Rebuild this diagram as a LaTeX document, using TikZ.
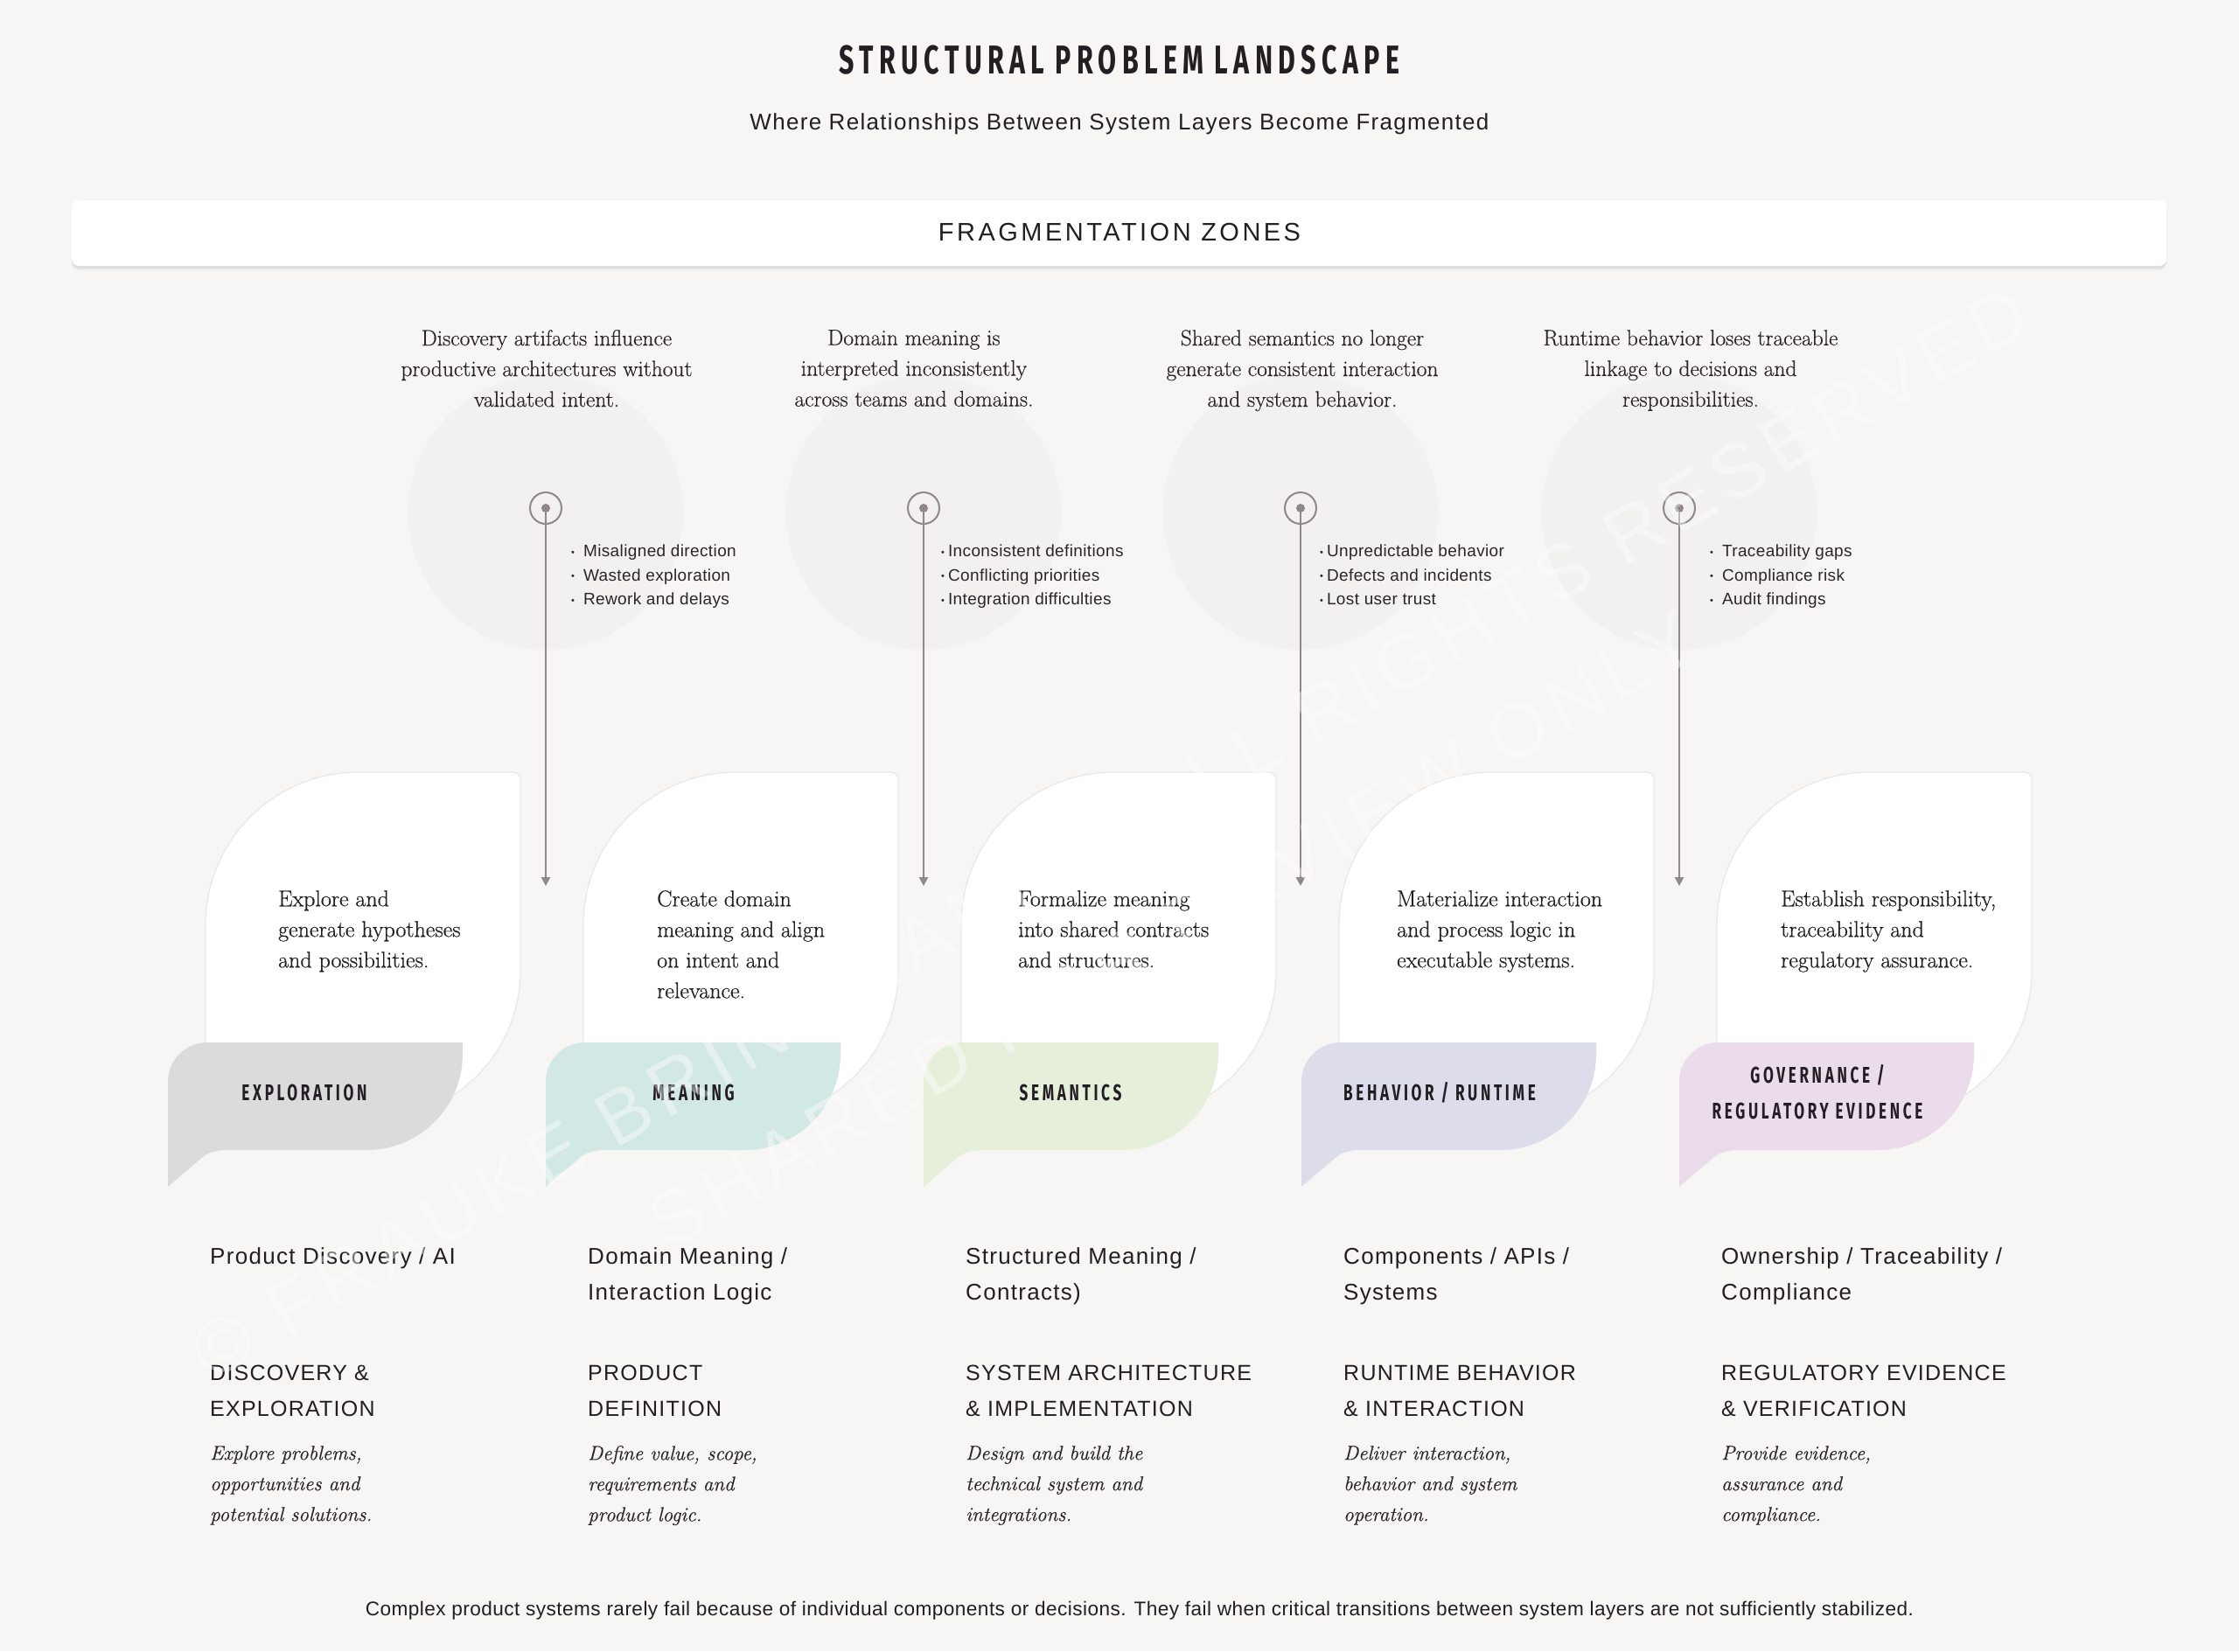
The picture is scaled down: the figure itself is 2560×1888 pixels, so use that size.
\documentclass[tikz,border=0pt]{standalone}
\usepackage{fontspec}
\setmainfont{Latin Modern Roman}[FakeBold=0.5]
\newfontfamily\condf{Fira Sans}[FakeStretch=0.66,LetterSpace=14]
\newfontfamily\sansf{Liberation Sans}[LetterSpace=5]
\newfontfamily\sanst{Liberation Sans}[LetterSpace=2]
\newfontfamily\sanswide{Liberation Sans}[LetterSpace=12]
\newfontfamily\wmf{Liberation Sans}[LetterSpace=10]
\usetikzlibrary{arrows.meta}
\definecolor{bgc}{HTML}{F7F6F4}
\definecolor{halo}{HTML}{F3F0F0}
\definecolor{ink}{HTML}{221E24}
\definecolor{soft}{HTML}{2A2529}
\definecolor{stemc}{HTML}{8F8789}
\definecolor{cExp}{HTML}{DCDBDB}
\definecolor{cMea}{HTML}{D2E8E5}
\definecolor{cSem}{HTML}{E5EFDA}
\definecolor{cBeh}{HTML}{DCDCEA}
\definecolor{cGov}{HTML}{EADCEA}
\newcommand\bul{{\fontsize{11}{11}\selectfont\raisebox{1.5pt}{•}}}
\tikzset{
  cardshape/.style={fill=white,draw=black!9,line width=1.2pt},
  cardtext/.style={inner sep=0pt,align=left,text=ink,font=\fontsize{26}{35}\selectfont},
  labeltext/.style={inner sep=0pt,align=center,text=ink,font=\condf\bfseries\fontsize{26}{41}\selectfont},
  zonetext/.style={inner sep=0pt,align=center,text=soft,font=\fontsize{25.5}{35}\selectfont},
  bullettext/.style={inner sep=0pt,align=left,text=soft,font=\sanst\fontsize{19}{27.5}\selectfont},
  toptext/.style={inner sep=0pt,align=left,text=ink,font=\sansf\fontsize{26}{41}\selectfont},
  headtext/.style={inner sep=0pt,align=left,text=ink,font=\sansf\fontsize{25}{41}\selectfont},
  desctext/.style={inner sep=0pt,align=left,text=soft,font=\itshape\fontsize{23}{35}\selectfont},
  marker/.style={circle,draw=stemc,line width=2pt,minimum size=36pt,inner sep=0pt},
  stem/.style={draw=stemc,line width=2.5pt,-{Triangle[length=10pt,width=10pt]}},
  wmark/.style={text=white,opacity=0.4,font=\wmf\fontsize{88}{96}\selectfont,rotate=30}
}
\newcommand\phasecard[7]{%
  \begin{scope}[shift={(#2,883)}]
    \path[cardshape] (0,397) -- (0,175) .. controls (0,78) and (78,0) .. (175,0) -- (352,0) .. controls (356.4,0) and (360,3.6) .. (360,8) -- (360,227) .. controls (360,321) and (284,397) .. (190,397) -- cycle;
    \node[cardtext,anchor=north west] (card#1) at (#6,135) {#5};
    \path[fill=#3] (-43,474) -- (-43,354) .. controls (-43,329) and (-23,309) .. (2,309) -- (294,309) -- (294,322) .. controls (294,383) and (245,432) .. (184,432) -- (25,432) .. controls (10,432) and (0,436) .. (-8,444) -- cycle;
    \node[labeltext] (lab#1) at (#7,366) {#4};
  \end{scope}}
\newcommand\zonestem[2]{%
  \fill[halo] (#2,586) circle[radius=157pt];
  \node[marker] (mk#1) at (#2,581) {};
  \fill[stemc] (#2,581) circle[radius=5pt];
  \coordinate (end#1) at (#2,1013);
  \draw[stem] (mk#1.center) -- (end#1);
}
\begin{document}
\begin{tikzpicture}[x=1pt,y=-1pt]
\useasboundingbox (0,0) rectangle (2560,1888);
\fill[bgc] (0,0) rectangle (2560,1888);

% title
\node[text=ink,font=\condf\bfseries\fontsize{46}{50}\selectfont] (title) at (1280,69) {STRUCTURAL\hspace{12pt}PROBLEM\hspace{12pt}LANDSCAPE};
\node[text=ink,font=\sansf\fontsize{26}{30}\selectfont] (subtitle) at (1280,142) {Where Relationships Between System Layers Become Fragmented};

% fragmentation bar
\fill[black!7,rounded corners=8pt] (82,233) rectangle (2477,309);
\fill[black!13,rounded corners=8pt] (82,231) rectangle (2477,307);
\fill[white,rounded corners=8pt] (82,229) rectangle (2477,304);
\node[text=ink,font=\sanswide\fontsize{29}{32}\selectfont] (fz) at (1280,266) {FRAGMENTATION ZONES};

% zones
\zonestem{1}{624}
\zonestem{2}{1056}
\zonestem{3}{1487}
\zonestem{4}{1920}

\node[zonetext,anchor=north] (z1) at (625,377) {Discovery artifacts influence\\productive architectures without\\validated intent.};
\node[zonetext,anchor=north] (z2) at (1045,377) {Domain meaning is\\interpreted inconsistently\\across teams and domains.};
\node[zonetext,anchor=north] (z3) at (1489,377) {Shared semantics no longer\\generate consistent interaction\\and system behavior.};
\node[zonetext,anchor=north] (z4) at (1933,377) {Runtime behavior loses traceable\\linkage to decisions and\\responsibilities.};

\node[bullettext,anchor=north west] (b1) at (653,623) {\bul\hspace{10pt}Misaligned direction\\\bul\hspace{10pt}Wasted exploration\\\bul\hspace{10pt}Rework and delays};
\node[bullettext,anchor=north west] (b2) at (1076,623) {\bul\hspace{4pt}Inconsistent definitions\\\bul\hspace{4pt}Conflicting priorities\\\bul\hspace{4pt}Integration difficulties};
\node[bullettext,anchor=north west] (b3) at (1509,623) {\bul\hspace{4pt}Unpredictable behavior\\\bul\hspace{4pt}Defects and incidents\\\bul\hspace{4pt}Lost user trust};
\node[bullettext,anchor=north west] (b4) at (1955,623) {\bul\hspace{10pt}Traceability gaps\\\bul\hspace{10pt}Compliance risk\\\bul\hspace{10pt}Audit findings};

% cards
\phasecard{1}{235}{cExp}{EXPLORATION}{Explore and\\generate hypotheses\\and possibilities.}{83}{113}
\phasecard{2}{667}{cMea}{MEANING}{Create domain\\meaning and align\\on intent and\\relevance.}{84}{126}
\phasecard{3}{1099}{cSem}{SEMANTICS}{Formalize meaning\\into shared contracts\\and structures.}{65}{125}
\phasecard{4}{1531}{cBeh}{BEHAVIOR / RUNTIME}{Materialize interaction\\and process logic in\\executable systems.}{66}{115}
\phasecard{5}{1963}{cGov}{GOVERNANCE /\\REGULATORY EVIDENCE}{Establish responsibility,\\traceability and\\regulatory assurance.}{73}{115}

% bottom columns
\node[toptext,anchor=north west] (t1) at (240,1426) {Product Discovery / AI};
\node[toptext,anchor=north west] (t2) at (672,1426) {Domain Meaning /\\Interaction Logic};
\node[toptext,anchor=north west] (t3) at (1104,1426) {Structured Meaning /\\Contracts)};
\node[toptext,anchor=north west] (t4) at (1536,1426) {Components / APIs /\\Systems};
\node[toptext,anchor=north west] (t5) at (1968,1426) {Ownership / Traceability /\\Compliance};

\node[headtext,anchor=north west] (h1) at (240,1561) {DISCOVERY \&\\EXPLORATION};
\node[headtext,anchor=north west] (h2) at (672,1561) {PRODUCT\\DEFINITION};
\node[headtext,anchor=north west] (h3) at (1104,1561) {SYSTEM ARCHITECTURE\\\& IMPLEMENTATION};
\node[headtext,anchor=north west] (h4) at (1536,1561) {RUNTIME BEHAVIOR\\\& INTERACTION};
\node[headtext,anchor=north west] (h5) at (1968,1561) {REGULATORY EVIDENCE\\\& VERIFICATION};

\node[desctext,anchor=north west] (d1) at (240,1653) {Explore problems,\\opportunities and\\potential solutions.};
\node[desctext,anchor=north west] (d2) at (672,1653) {Define value, scope,\\requirements and\\product logic.};
\node[desctext,anchor=north west] (d3) at (1104,1653) {Design and build the\\technical system and\\integrations.};
\node[desctext,anchor=north west] (d4) at (1536,1653) {Deliver interaction,\\behavior and system\\operation.};
\node[desctext,anchor=north west] (d5) at (1968,1653) {Provide evidence,\\assurance and\\compliance.};

% footer
\node[text=ink,font=\sanst\fontsize{22.6}{26}\selectfont] (footer) at (1303,1842) {Complex product systems rarely fail because of individual components or decisions. They fail when critical transitions between system layers are not sufficiently stabilized.};

% watermark
\node[wmark] (wm1) at (1270,952) {© FRAUKE BRINKMANN – ALL RIGHTS RESERVED};
\node[wmark] (wm2) at (1340,1064) {SHARED FOR REVIEW ONLY};
\end{tikzpicture}
\end{document}
